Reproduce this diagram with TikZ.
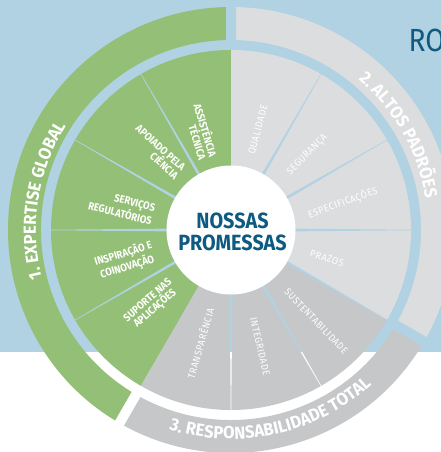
\documentclass[tikz,border=0pt]{standalone}
\usepackage{fontspec}
\setmainfont{Fira Sans}
\newfontfamily\labfont[FakeStretch=0.88]{Fira Sans}
\newfontfamily\grayfont[FakeStretch=0.9,LetterSpace=6]{Fira Sans}
\newfontfamily\bandfont[FakeStretch=0.95]{Fira Sans}
\newfontfamily\ctrfont[FakeStretch=0.9]{Fira Sans}
\usetikzlibrary{calc,decorations.text}
\definecolor{bgblue}{HTML}{B1D2E2}
\definecolor{pgreen}{HTML}{94BF76}
\definecolor{lgray}{HTML}{DCDDDF}
\definecolor{mgray}{HTML}{C6C7C9}
\definecolor{dblue}{HTML}{0E5A80}
\newcommand{\bgfill}{\fill[bgblue] (0,100) rectangle (441,453); \fill[white] (0,-1) rectangle (441,100);}
\begin{document}
\begin{tikzpicture}[x=1pt,y=1pt,
  wlab/.style={text=white, font=\labfont\bfseries\fontsize{10.8}{11}\selectfont, inner sep=0pt},
  glab/.style={text=white, font=\grayfont\fontsize{10}{10}\selectfont, inner sep=0pt},
  bandtext/.style={decorate, decoration={text along path, text align=center, text color=white,
     text={|\bandfont\bfseries\fontsize{17.5}{17.5}\selectfont|#1}}}]
\useasboundingbox (0,0) rectangle (441,452);
\clip (0,0) rectangle (441,452);
\bgfill
\coordinate (C) at (231,222);
% outer bands
\fill[pgreen] ($(C)+(90:223)$) arc[start angle=90,end angle=240,radius=223] -- ($(C)+(240:190)$) arc[start angle=240,end angle=90,radius=190] -- cycle;
\fill[lgray] ($(C)+(-30:223)$) arc[start angle=-30,end angle=90,radius=223] -- ($(C)+(90:190)$) arc[start angle=90,end angle=-30,radius=190] -- cycle;
\fill[mgray] ($(C)+(240:223)$) arc[start angle=240,end angle=330,radius=223] -- ($(C)+(330:190)$) arc[start angle=330,end angle=240,radius=190] -- cycle;
% gaps between bands
\foreach \a in {90,240,330}{
  \begin{scope}
    \clip ($(C)+(\a:175)+(\a+90:5)$) -- ($(C)+(\a:240)+(\a+90:5)$) -- ($(C)+(\a:240)+(\a-90:5)$) -- ($(C)+(\a:175)+(\a-90:5)$) -- cycle;
    \bgfill
  \end{scope}
}
% inner wedges
\fill[pgreen] (C) -- ($(C)+(90:180)$) arc[start angle=90,end angle=240,radius=180] -- cycle;
\fill[lgray] (C) -- ($(C)+(-30:180)$) arc[start angle=-30,end angle=90,radius=180] -- cycle;
\fill[mgray] (C) -- ($(C)+(240:180)$) arc[start angle=240,end angle=330,radius=180] -- cycle;
% separators
\foreach \a in {120,150,180,210,60,30,0,-30,-60,-90}{
  \begin{scope}
    \clip ($(C)+(\a:60)+(\a+90:1.4)$) -- ($(C)+(\a:181)+(\a+90:0.25)$) -- ($(C)+(\a:181)+(\a-90:0.25)$) -- ($(C)+(\a:60)+(\a-90:1.4)$) -- cycle;
    \bgfill
  \end{scope}
}
% centre
\fill[white] (C) circle[radius=64.5];
\node[font=\ctrfont\bfseries\fontsize{22}{22.6}\selectfont, text=dblue, align=center, inner sep=0pt] (ctr) at (232.5,220) {NOSSAS\\PROMESSAS};
% band labels
\path[bandtext={1. EXPERTISE GLOBAL}] ($(C)+(211:195)$) arc[start angle=211,end angle=131,radius=195];
\path[bandtext={2. ALTOS PADRÕES}] ($(C)+(70:197)$) arc[start angle=70,end angle=-11,radius=197];
\path[bandtext={3. RESPONSABILIDADE TOTAL}] ($(C)+(240:209)$) arc[start angle=240,end angle=325,radius=209];
% green labels
\node[wlab, align=right, rotate=-73] (l1) at ($(C)+(107:103)$) {ASSISTÊNCIA\\TÉCNICA};
\node[wlab, align=right, rotate=-42] (l2) at ($(C)+(133.5:107.5)$) {APOIADO PELA\\CIÊNCIA};
\node[wlab, align=right, rotate=-14] (l3) at ($(C)+(168:111.7)$) {SERVIÇOS\\REGULATÓRIOS};
\node[wlab, align=center, rotate=17] (l4) at ($(C)+(196:110)$) {INSPIRAÇÃO E\\COINOVAÇÃO};
\node[wlab, align=center, rotate=41] (l5) at ($(C)+(223.4:109)$) {SUPORTE NAS\\APLICAÇÕES};
% grey labels
\node[glab, rotate=75] (g1) at ($(C)+(74.8:104)$) {QUALIDADE};
\node[glab, rotate=46] (g2) at ($(C)+(44.5:107)$) {SEGURANÇA};
\node[glab, rotate=20] (g3) at ($(C)+(13.7:115)$) {ESPECIFICAÇÕES};
\node[glab, rotate=-16] (g4) at ($(C)+(-16.5:100)$) {PRAZOS};
\node[glab, rotate=-46] (g5) at ($(C)+(-47:125)$) {SUSTENTABILIDADE};
\node[glab, rotate=-77] (g6) at ($(C)+(-76:120)$) {INTEGRIDADE};
\node[glab, rotate=74] (g7) at ($(C)+(254.7:117.5)$) {TRANSPARÊNCIA};
% title fragment
\node[anchor=base west, inner sep=0pt, text=dblue, font=\labfont\fontsize{32}{32}\selectfont] (ro) at (408.5,400.5) {RO};
\end{tikzpicture}
\end{document}
